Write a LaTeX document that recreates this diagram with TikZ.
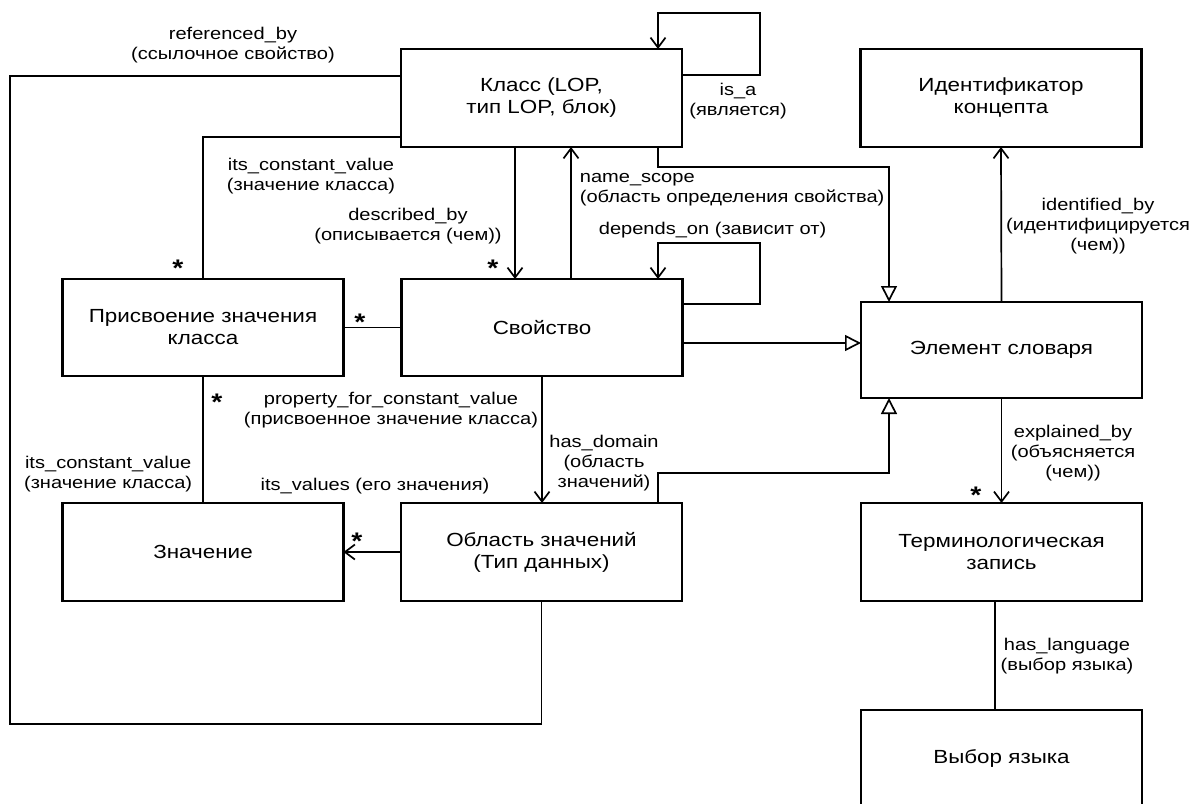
\documentclass[tikz,border=0pt]{standalone}
\usepackage{fontspec}
\setmainfont{Liberation Sans}[FakeStretch=1.18]
\usetikzlibrary{arrows.meta}
\begin{document}
\begin{tikzpicture}[x=1bp,y=-1bp,line width=1.7bp,
  box/.style={draw,line width=2.6bp,minimum width=281bp,inner sep=0pt,outer sep=0pt,align=center,font=\fontsize{19bp}{22bp}\selectfont},
  lbl/.style={inner sep=0pt,align=center,font=\fontsize{17bp}{20bp}\selectfont},
  mult/.style={inner sep=0pt,anchor=base,font=\fontsize{24bp}{24bp}\selectfont\bfseries},
  arr/.style={-{Straight Barb[length=10bp,width=15bp]}},
  gen/.style={-{Triangle[length=16bp,width=16bp,fill=white]}}]
\useasboundingbox (0,0) rectangle (1192,804);
% boxes
\node[box,minimum height=98bp] (cls) at (541.5,98) {Класс (LOP,\\тип LOP, блок)};
\node[box,minimum height=98bp] (ident) at (1001,98) {Идентификатор\\концепта};
\node[box,minimum height=97bp] (assign) at (203,327.5) {Присвоение значения\\класса};
\node[box,minimum height=97bp] (prop) at (542,327.5) {Свойство};
\node[box,minimum height=96bp] (elem) at (1001.5,350) {Элемент словаря};
\node[box,minimum height=98bp] (val) at (203,552) {Значение};
\node[box,minimum height=98bp] (dom) at (541.5,552) {Область значений\\(Тип данных)};
\node[box,minimum height=98bp] (term) at (1001.5,552) {Терминологическая\\запись};
\node[box,minimum height=96bp] (lang) at (1001.5,758) {Выбор языка};
% bend points
\coordinate (rbBL) at (10,724);
\coordinate (rbTL) at (10,76);
\coordinate (icvT) at (203,137);
\coordinate (dbx) at (515,0);
\coordinate (nsx) at (571,0);
\coordinate (g1) at (658,167);
\coordinate (gx) at (889,0);
\coordinate (isaA) at (760,75);
\coordinate (isaB) at (760,13);
\coordinate (isaC) at (658,13);
\coordinate (dA) at (760,304);
\coordinate (dB) at (760,243);
\coordinate (dC) at (658,243);
\coordinate (pe) at (0,343);
\coordinate (de) at (658,473);
\coordinate (hlx) at (995,0);
% connectors
\draw (dom.south) |- (rbBL) -- (rbTL) -- (rbTL -| cls.west);
\draw (icvT -| cls.west) -| (assign.north);
\draw[arr] (cls.south -| dbx) -- (prop.north -| dbx);
\draw[arr] (prop.north -| nsx) -- (cls.south -| nsx);
\draw[gen] (cls.south -| g1) -- (g1) -| (elem.north -| gx);
\draw[arr] (isaA -| cls.east) -- (isaA) -- (isaB) -- (isaC) -- (isaC |- cls.north);
\draw[arr] (dA -| prop.east) -- (dA) -- (dB) -- (dC) -- (dC |- prop.north);
\draw[gen] (pe -| prop.east) -- (pe -| elem.west);
\draw[gen] (de |- dom.north) -- (de) -| (elem.south -| gx);
\draw[arr] (elem.north) -- (ident.south);
\draw[arr] (elem.south) -- (term.north);
\draw (term.south -| hlx) -- (lang.north -| hlx);
\draw (assign.east) -- (prop.west);
\draw (assign.south) -- (val.north);
\draw[arr] (prop.south) -- (prop.south |- dom.north);
\draw[arr] (dom.west) -- (val.east);
% labels
\node[lbl] (lrb) at (233,45) {referenced\_by\\(ссылочное свойство)};
\node[lbl] (licv1) at (311,176) {its\_constant\_value\\(значение класса)};
\node[lbl] (ldb) at (408,226) {described\_by\\(описывается (чем))};
\node[lbl,anchor=west,align=left] (lns) at (579,190) {name\_scope\\(область определения свойства)};
\node[lbl,anchor=west] (ldo) at (598,230) {depends\_on (зависит от)};
\node[lbl] (lisa) at (738,101) {is\_a\\(является)};
\node[lbl] (lid) at (1098,226) {identified\_by\\(идентифицируется\\(чем))};
\node[lbl] (lex) at (1073,453) {explained\_by\\(объясняется\\(чем))};
\node[lbl] (lhl) at (1067,656) {has\_language\\(выбор языка)};
\node[lbl] (lpfc) at (391,410) {property\_for\_constant\_value\\(присвоенное значение класса)};
\node[lbl] (lhd) at (604,463) {has\_domain\\(область\\значений)};
\node[lbl,anchor=east] (licv2) at (193,474) {its\_constant\_value\\(значение класса)};
\node[lbl] (liv) at (375,486) {its\_values (его значения)};
% multiplicities
\node[mult] (m1) at (178,276) {*};
\node[mult] (m2) at (493,276) {*};
\node[mult] (m3) at (360,330) {*};
\node[mult] (m4) at (217,410) {*};
\node[mult] (m5) at (357,549) {*};
\node[mult] (m6) at (976,503) {*};
\end{tikzpicture}
\end{document}
